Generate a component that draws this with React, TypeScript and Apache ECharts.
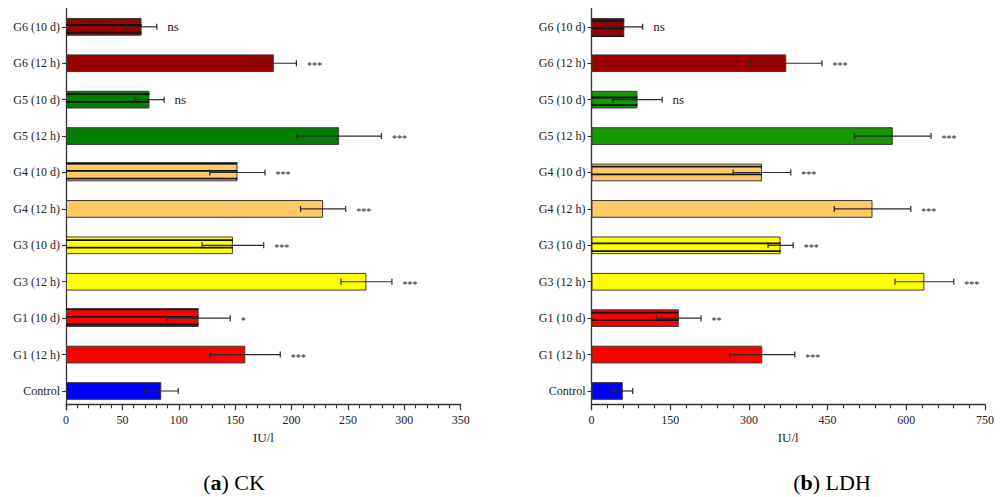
import React, { useEffect, useRef } from "react";
import * as echarts from "echarts";

const categories = [
  "Control",
  "G1 (12 h)",
  "G1 (10 d)",
  "G3 (12 h)",
  "G3 (10 d)",
  "G4 (12 h)",
  "G4 (10 d)",
  "G5 (12 h)",
  "G5 (10 d)",
  "G6 (12 h)",
  "G6 (10 d)",
];

const ckValues = [84.5, 159, 117.6, 266.4, 148, 228, 152, 242.2, 74, 184.3, 67];
const ckErrors = [15, 31, 28, 22.6, 27.3, 20, 24.5, 37.5, 13, 20, 13.5];
const ckSignificance = ["", "***", "*", "***", "***", "***", "***", "***", "ns", "***", "ns"];

const ldhValues = [59.6, 325.5, 166.3, 634.5, 360.4, 535.6, 324.9, 574.3, 87.6, 371.2, 62.5];
const ldhErrors = [19, 62, 42.5, 56, 24, 73, 55, 73, 47, 68, 35];
const ldhSignificance = ["", "***", "**", "***", "***", "***", "***", "***", "ns", "***", "ns"];

const ckAxis = { min: 0, max: 350, interval: 50 };
const ldhAxis = { min: 0, max: 750, interval: 150 };

const ckColors = ["#0000ff", "#ff0000", "#ff0000", "#ffff00", "#ffff00", "#ffc966", "#ffc966", "#008000", "#008000", "#990000", "#990000"];
const ldhColors = ["#0000ff", "#ff0000", "#ff0000", "#ffff00", "#ffff00", "#ffc966", "#ffc966", "#129900", "#129900", "#9a0000", "#9a0000"];

const FONT = "'Liberation Serif', 'Times New Roman', serif";
const BAR_H = 17.7;
const STRIPE_PERIOD = 7.68;

function makeStripeSeries(values: number[], gridIdx: number, phase: number) {
  return {
    type: "custom",
    xAxisIndex: gridIdx,
    yAxisIndex: gridIdx,
    z: 3,
    silent: true,
    clip: false,
    encode: { x: 0, y: 1 },
    data: values
      .map((v, i) => [v, i])
      .filter((d) => categories[d[1]].indexOf("10 d") >= 0),
    renderItem: (params: any, api: any) => {
      const v = api.value(0);
      const idx = api.value(1);
      const p0 = api.coord([0, idx]);
      const p1 = api.coord([v, idx]);
      const top = p0[1] - BAR_H / 2 - 0.6;
      const bot = p0[1] + BAR_H / 2 + 0.6;
      const children: any[] = [];
      const k = Math.ceil((top - phase) / STRIPE_PERIOD);
      for (let y = phase + k * STRIPE_PERIOD; y <= bot; y += STRIPE_PERIOD) {
        children.push({
          type: "line",
          shape: { x1: p0[0], y1: y, x2: p1[0], y2: y },
          style: { stroke: "#111", lineWidth: 1.8 },
        });
      }
      return { type: "group", children };
    },
  };
}

function makeErrorSeries(values: number[], errors: number[], sig: string[], gridIdx: number) {
  return {
    type: "custom",
    xAxisIndex: gridIdx,
    yAxisIndex: gridIdx,
    z: 4,
    silent: true,
    clip: false,
    encode: { x: 0, y: 1 },
    data: values.map((v, i) => [v, i, errors[i]]),
    renderItem: (params: any, api: any) => {
      const v = api.value(0);
      const idx = api.value(1);
      const e = api.value(2);
      const a = api.coord([v - e, idx]);
      const b = api.coord([v + e, idx]);
      const y = a[1];
      const s = sig[params.dataIndex];
      const stroke = "#2a2a2a";
      const children: any[] = [
        { type: "line", shape: { x1: a[0], y1: y, x2: b[0], y2: y }, style: { stroke, lineWidth: 1.2 } },
        { type: "line", shape: { x1: a[0], y1: y - 3, x2: a[0], y2: y + 3 }, style: { stroke, lineWidth: 1.2 } },
        { type: "line", shape: { x1: b[0], y1: y - 3, x2: b[0], y2: y + 3 }, style: { stroke, lineWidth: 1.2 } },
      ];
      if (s) {
        const isNs = s === "ns";
        children.push({
          type: "text",
          style: {
            text: s,
            x: b[0] + 10.5,
            y: y + (isNs ? -0.5 : 2.5),
            fill: "#222",
            fontFamily: FONT,
            fontSize: isNs ? 13 : 10,
            align: "left",
            verticalAlign: "middle",
          },
        });
      }
      return { type: "group", children };
    },
  };
}

function makeXAxis(gridIdx: number, ax: { min: number; max: number; interval: number }) {
  return {
    type: "value",
    gridIndex: gridIdx,
    min: ax.min,
    max: ax.max,
    interval: ax.interval,
    offset: -4.9,
    name: "IU/l",
    nameLocation: "middle",
    nameGap: 24,
    nameTextStyle: { fontFamily: FONT, fontSize: 13, color: "#222" },
    axisLine: { show: true, lineStyle: { color: "#333", width: 1.3 } },
    axisTick: { show: true, length: 6, lineStyle: { color: "#333", width: 1.2 } },
    minorTick: { show: true, splitNumber: 5, length: 4, lineStyle: { color: "#333", width: 1.1 } },
    axisLabel: { fontFamily: FONT, fontSize: 12, color: "#222", margin: 10 },
    splitLine: { show: false },
  };
}

function makeYAxis(gridIdx: number) {
  return {
    type: "category",
    gridIndex: gridIdx,
    data: categories,
    axisLine: { show: true, lineStyle: { color: "#333", width: 1.3 } },
    axisTick: { show: true, alignWithLabel: true, length: 4, lineStyle: { color: "#333", width: 1.1 } },
    axisLabel: { fontFamily: FONT, fontSize: 12, color: "#222", margin: 6 },
    splitLine: { show: false },
  };
}

function makeBarSeries(values: number[], colors: string[], gridIdx: number) {
  return {
    type: "bar",
    xAxisIndex: gridIdx,
    yAxisIndex: gridIdx,
    barWidth: BAR_H,
    z: 2,
    data: values.map((v, i) => ({
      value: v,
      itemStyle: { color: colors[i], borderColor: "#3a3a3a", borderWidth: 1 },
    })),
  };
}

export default function App() {
  const ref = useRef<HTMLDivElement>(null);
  useEffect(() => {
    if (!ref.current) return;
    const chart = echarts.init(ref.current, null, { renderer: "svg" });
    chart.setOption({
      animation: false,
      backgroundColor: "#ffffff",
      grid: [
        { left: 66, top: 8.6, width: 394.7, height: 400.6 },
        { left: 591.5, top: 8.6, width: 393.5, height: 400.6 },
      ],
      xAxis: [makeXAxis(0, ckAxis), makeXAxis(1, ldhAxis)],
      yAxis: [makeYAxis(0), makeYAxis(1)],
      series: [
        makeBarSeries(ckValues, ckColors, 0),
        makeStripeSeries(ckValues, 0, 25),
        makeErrorSeries(ckValues, ckErrors, ckSignificance, 0),
        makeBarSeries(ldhValues, ldhColors, 1),
        makeStripeSeries(ldhValues, 1, 20.7),
        makeErrorSeries(ldhValues, ldhErrors, ldhSignificance, 1),
      ],
      graphic: [
        {
          type: "text",
          x: 234,
          y: 482,
          style: {
            text: "{n|(}{b|a}{n|) CK}",
            align: "center",
            verticalAlign: "middle",
            rich: {
              n: { fontFamily: FONT, fontSize: 22, color: "#111" },
              b: { fontFamily: FONT, fontSize: 22, fontWeight: "bold", color: "#111" },
            },
          },
        },
        {
          type: "text",
          x: 832,
          y: 482,
          style: {
            text: "{n|(}{b|b}{n|) LDH}",
            align: "center",
            verticalAlign: "middle",
            rich: {
              n: { fontFamily: FONT, fontSize: 22, color: "#111" },
              b: { fontFamily: FONT, fontSize: 22, fontWeight: "bold", color: "#111" },
            },
          },
        },
      ],
    });
    return () => chart.dispose();
  }, []);
  return (
    <div
      ref={ref}
      style={{ position: "absolute", left: 0, top: 0, width: 1003, height: 497 }}
    />
  );
}
